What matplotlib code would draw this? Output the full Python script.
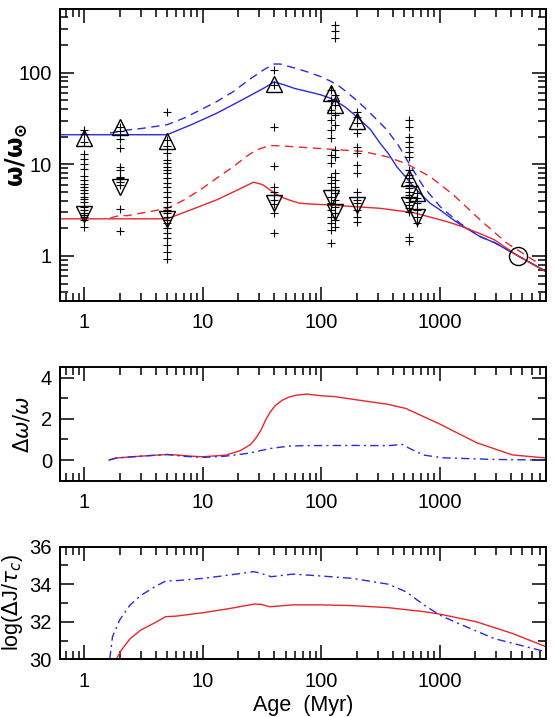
import numpy as np
import matplotlib
matplotlib.use("Agg")
import matplotlib.pyplot as plt
from matplotlib.ticker import FixedLocator, NullFormatter, LogLocator

plt.rcParams['font.family'] = ['Liberation Sans', 'DejaVu Sans']
plt.rcParams['mathtext.fontset'] = 'dejavusans'

BLUE = '#2a2ae0'
RED = '#e8262b'

# ---- top panel: model tracks (age in Myr, omega/omega_sun)
age_bs = [0.63, 5.0, 8, 13.1, 20, 25, 33, 40, 48, 60, 86, 100, 119, 140, 160, 200, 260, 314, 370, 435, 520, 601, 735, 830, 1000, 1310, 1500, 2200, 2900, 4600, 7900]
w_bs = [21.0, 21.0, 27, 36, 48, 56, 68, 79, 74, 67, 60, 57, 52.7, 47, 42, 33, 24, 17, 13.0, 9.4, 7.2, 5.7, 4.4, 3.76, 3.2, 2.47, 2.2, 1.62, 1.40, 1.0, 0.68]

age_bd = [1.65, 2.2, 3.0, 5.0, 7, 9.5, 13, 18.1, 25, 33, 40, 45, 60, 80, 100, 119, 140, 160, 185, 226, 300, 358, 450, 528, 620, 730, 850, 1010, 1310, 1500, 2200, 2900, 4600, 7900]
w_bd = [21.9, 23.5, 24.5, 27, 32, 39, 48, 62, 85, 108, 124, 124, 112, 100, 90, 81, 72, 63, 54, 43, 30, 23.8, 16, 11.2, 8, 5.7, 4.5, 3.45, 2.6, 2.25, 1.63, 1.40, 1.0, 0.68]

age_rs = [0.63, 5.0, 8, 13.1, 20, 26.8, 32, 37, 42, 48, 56, 66, 86, 120, 164, 314, 601, 1150, 1500, 2200, 2900, 4600, 7900]
w_rs = [2.54, 2.54, 3.2, 4.09, 5.3, 6.38, 6.0, 5.25, 4.7, 4.3, 4.0, 3.76, 3.67, 3.6, 3.5, 3.31, 2.97, 2.37, 2.12, 1.75, 1.5, 1.0, 0.67]

age_rd = [1.65, 2.0, 2.3, 5.0, 7, 9.5, 13, 18.1, 23, 28.5, 37, 45, 70, 119, 226, 358, 528, 830, 1310, 2200, 3700, 6200, 7000]
w_rd = [2.58, 2.78, 2.75, 3.3, 4.1, 5.25, 7.0, 9.4, 12, 14.4, 16, 15.9, 15.3, 14.6, 13.8, 12.1, 10.1, 7.34, 4.63, 2.47, 1.38, 0.90, 0.82]

# ---- top panel: cluster rotation data
w_1myr = [23.8, 21.5, 17.7, 13, 11.5, 10.1, 8.8, 7.5, 6.76, 6.1, 5.7, 5.25, 4.83, 4.44, 4.16, 3.92, 3.45, 3.18, 2.97, 2.8, 2.69, 2.47, 2.09]
w_2myr = [25.8, 23.3, 18.8, 15.2, 9.4, 8.7, 7.3, 7.06, 6.47, 5.96, 3.24, 1.89]
w_5myr = [37.6, 18.5, 15.9, 13.4, 11.2, 10.3, 9.4, 8.7, 8.0, 7.06, 6.3, 5.7, 5.0, 4.44, 3.92, 3.45, 3.18, 2.92, 2.69, 2.47, 2.27, 2.0, 1.77, 1.56, 1.32, 1.11, 0.93]
w_40myr = [107, 73.6, 25.8, 9.6, 5.7, 4.96, 4.63, 4.09, 3.69, 2.92, 1.77]
w_120myr = [64.9, 50.5, 39.3, 30.5, 23.8, 19.3, 12.7, 10.3, 7.3, 6.2, 5.25, 4.44, 3.76, 3.18, 2.69, 2.27, 1.92, 1.38]
w_130myr = [333, 281, 238, 57.3, 44.5, 34.6, 26.9, 14.4, 12.1, 8.0, 6.76, 5.7, 4.83, 4.09, 3.45, 2.92, 2.47, 2.09]
w_200myr = [37.6, 33, 28.1, 21.8, 15.6, 13.2, 9.85, 8.0, 5.0, 4.09, 3.76, 3.18, 2.69, 2.37]
w_550myr = [30.5, 25.8, 20.0, 17.7, 15.6, 13.7, 12.1, 8.7, 7.65, 7.06, 6.47, 5.96, 5.5, 5.0, 4.63, 4.26, 3.92, 3.6, 3.31, 3.05, 1.62, 1.47]
w_640myr = [4.83, 4.26, 3.76, 3.18, 2.69, 2.27]
cluster_ages = [1, 2, 5, 40, 120, 130, 200, 550, 640]
cluster_w = [w_1myr, w_2myr, w_5myr, w_40myr, w_120myr, w_130myr, w_200myr, w_550myr, w_640myr]

w_fast = [19.2, 25.8, 18.0, 75, 59.7, 44.5, 29.3, 7.06, 4.9]
w_slow = [2.88, 5.6, 2.52, 3.76, 4.26, 3.05, 3.6, 3.6, 2.69]
sun_age = 4570
sun_w = 1.0

# ---- middle panel: delta omega / omega
age_dr = [1.62, 1.86, 3.0, 5.0, 5.96, 7.9, 10, 15.6, 20.6, 25.3, 28, 31, 34, 36.8, 41, 46.9, 53, 61.8, 76, 100, 130, 185, 370, 520, 1000, 2040, 4100, 7900]
dw_r = [0.0, 0.1, 0.19, 0.27, 0.25, 0.19, 0.16, 0.24, 0.45, 0.75, 1.05, 1.45, 1.95, 2.3, 2.65, 2.9, 3.05, 3.15, 3.2, 3.12, 3.08, 2.95, 2.7, 2.5, 1.75, 0.85, 0.25, 0.1]
age_db = [1.62, 1.86, 3.0, 5.0, 7, 10, 15.6, 23.6, 38, 54, 71, 185, 370, 485, 555, 735, 1070, 2900, 7900]
dw_b = [0.0, 0.1, 0.19, 0.27, 0.18, 0.13, 0.19, 0.32, 0.57, 0.68, 0.70, 0.71, 0.70, 0.76, 0.57, 0.24, 0.11, 0.03, 0.0]

# ---- bottom panel: log(dJ / tau_c)
age_jb = [1.64, 1.73, 1.99, 2.44, 3.0, 3.95, 4.86, 5.96, 10, 16.7, 27, 31, 38, 57.6, 100, 185, 370, 520, 735, 1000, 1450, 2900, 7900]
lj_b = [30.0, 31.2, 32.1, 32.9, 33.4, 33.87, 34.17, 34.19, 34.31, 34.49, 34.67, 34.58, 34.4, 34.54, 34.44, 34.31, 34.0, 33.6, 32.9, 32.36, 31.9, 31.1, 30.4]
age_jr = [1.86, 2.06, 2.44, 3.0, 3.95, 4.86, 5.96, 10, 16.7, 27, 31, 36.8, 57.6, 100, 185, 370, 735, 1000, 2040, 4100, 7900]
lj_r = [30.0, 30.5, 31.1, 31.56, 31.95, 32.27, 32.3, 32.48, 32.7, 32.94, 32.93, 32.8, 32.9, 32.9, 32.86, 32.75, 32.54, 32.41, 32.0, 31.38, 30.67]

xlim = (0.627, 7900)

fig = plt.figure(figsize=(5.54, 7.17), dpi=100)
ax1 = fig.add_axes([0.1088, 0.5806, 0.8767, 0.4064])
ax2 = fig.add_axes([0.1088, 0.3296, 0.8767, 0.1581])
ax3 = fig.add_axes([0.1088, 0.0805, 0.8767, 0.1570])


def style(ax):
    ax.set_xscale('log')
    ax.set_xlim(*xlim)
    ax.set_xticks([1, 10, 100, 1000])
    ax.set_xticklabels(['1', '10', '100', '1000'])
    ax.xaxis.set_minor_locator(LogLocator(base=10, subs=np.arange(2, 10)))
    ax.xaxis.set_minor_formatter(NullFormatter())
    ax.tick_params(which='both', direction='in', top=True, right=True, width=1.1)
    ax.tick_params(which='major', length=10, labelsize=14.5)
    ax.tick_params(which='minor', length=6)
    ax.tick_params(axis='x', pad=9)
    ax.tick_params(axis='y', pad=6)
    for s in ax.spines.values():
        s.set_linewidth(1.4)


# top panel
ax1.plot(age_bs, w_bs, color=BLUE, lw=1.0)
ax1.plot(age_bd, w_bd, color=BLUE, lw=1.0, ls=(0, (6, 4)))
ax1.plot(age_rs, w_rs, color=RED, lw=1.0)
ax1.plot(age_rd, w_rd, color=RED, lw=1.0, ls=(0, (6, 4)))
for a, ws in zip(cluster_ages, cluster_w):
    ax1.plot([a] * len(ws), ws, '+', color='black', ms=6, mew=0.8)
ax1.plot(cluster_ages, w_fast, '^', ms=12, mfc='none', mec='black', mew=1.0)
ax1.plot(cluster_ages, w_slow, 'v', ms=12, mfc='none', mec='black', mew=1.0)
ax1.plot([sun_age], [sun_w], 'o', ms=13, mfc='none', mec='black', mew=1.0)
style(ax1)
ax1.set_yscale('log')
ax1.set_ylim(0.325, 490)
ax1.set_yticks([1, 10, 100])
ax1.set_yticklabels(['1', '10', '100'])
ax1.yaxis.set_minor_locator(LogLocator(base=10, subs=np.arange(2, 10)))
ax1.yaxis.set_minor_formatter(NullFormatter())
ax1.set_ylabel(r'$\mathbf{\omega/\omega_{\odot}}$', fontsize=17)
ax1.yaxis.set_label_coords(-0.064, 0.5)

# middle panel
ax2.plot(age_dr, dw_r, color=RED, lw=1.0)
ax2.plot(age_db, dw_b, color=BLUE, lw=1.0, ls=(0, (6, 3, 1.5, 3)))
style(ax2)
ax2.set_ylim(-1, 4.5)
ax2.set_yticks([0, 2, 4])
ax2.yaxis.set_minor_locator(FixedLocator([-1, 1, 3]))
ax2.set_ylabel(r'$\Delta\omega/\omega$', fontsize=15)
ax2.yaxis.set_label_coords(-0.058, 0.5)

# bottom panel
ax3.plot(age_jr, lj_r, color=RED, lw=1.0)
ax3.plot(age_jb, lj_b, color=BLUE, lw=1.0, ls=(0, (6, 3, 1.5, 3)))
style(ax3)
ax3.set_ylim(30, 36)
ax3.set_yticks([30, 32, 34, 36])
ax3.yaxis.set_minor_locator(FixedLocator([31, 33, 35]))
ax3.set_ylabel(r'log($\Delta$J/$\tau_c$)', fontsize=15.5)
ax3.yaxis.set_label_coords(-0.073, 0.5)
ax3.set_xlabel('Age  (Myr)', fontsize=15.5, labelpad=3)

fig.savefig('out.png', dpi=100)
